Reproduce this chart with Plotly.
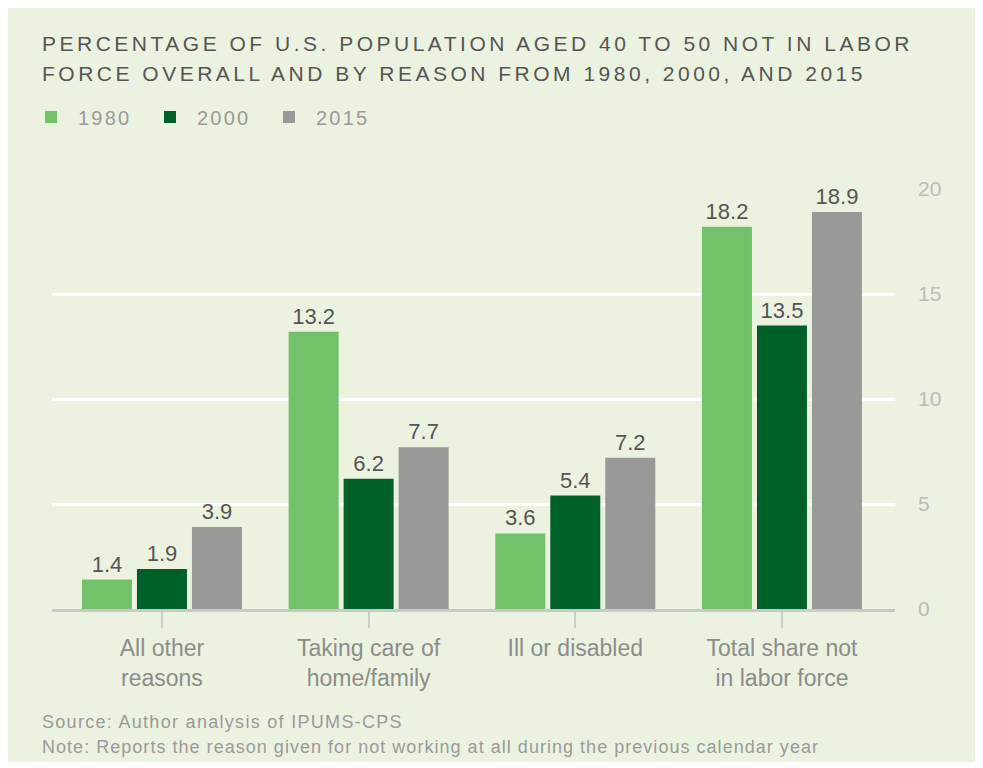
import plotly.graph_objects as go

categories = ["All other<br>reasons", "Taking care of<br>home/family", "Ill or disabled", "Total share not<br>in labor force"]
years = ["1980", "2000", "2015"]
values_1980 = [1.4, 13.2, 3.6, 18.2]
values_2000 = [1.9, 6.2, 5.4, 13.5]
values_2015 = [3.9, 7.7, 7.2, 18.9]
colors = ["#70c167", "#006128", "#999997"]
y_ticks = [0, 5, 10, 15, 20]
title_lines = ["PERCENTAGE OF U.S. POPULATION AGED 40 TO 50 NOT IN LABOR",
               "FORCE OVERALL AND BY REASON FROM 1980, 2000, AND 2015"]
notes = ["Source: Author analysis of IPUMS-CPS",
         "Note: Reports the reason given for not working at all during the previous calendar year"]

BG = "#ecf2e0"
FONT = "Liberation Sans, Arial, sans-serif"

# figure geometry (page has an 8px body margin)
W, H = 975, 754
L, T, PW, PH = 44, 181, 843, 420
R, B = W - L - PW, H - T - PH


def px(x):  # figure px -> paper x
    return (x - L) / PW


def py(y):  # figure px -> paper y
    return (T + PH - y) / PH


def spaced(s, ls):
    return f'<span style="letter-spacing:{ls}px">{s}</span>'


fig = go.Figure()
for name, vals, col in zip(years, [values_1980, values_2000, values_2015], colors):
    fig.add_trace(go.Bar(
        x=categories, y=vals, name=spaced(name, 2.2), marker=dict(color=col, line=dict(width=0)),
        text=[f"{v:.1f}" for v in vals], textposition="outside",
        textfont=dict(family=FONT, size=22, color="#555555"), cliponaxis=False,
    ))

annotations = []
for i, line in enumerate(title_lines):
    annotations.append(dict(
        text=spaced(line, 3.5), x=px(32), y=py(35.5 + 30 * i), xref="paper", yref="paper",
        showarrow=False, xanchor="left", yanchor="middle",
        font=dict(family=FONT, size=21, color="#555555")))
for i, (line, ls) in enumerate(zip(notes, [1.3, 1.03])):
    annotations.append(dict(
        text=spaced(line, ls), x=px(32), y=py(713.5 + 25 * i), xref="paper", yref="paper",
        showarrow=False, xanchor="left", yanchor="middle",
        font=dict(family=FONT, size=18, color="#9a9a9a")))

fig.update_layout(
    width=W, height=H,
    paper_bgcolor=BG, plot_bgcolor=BG,
    margin=dict(l=L, r=R, t=T, b=B),
    barmode="group", bargap=0.2016, bargroupgap=0.091,
    font=dict(family=FONT),
    legend=dict(
        orientation="h", x=16 / W, xanchor="left", xref="container",
        y=1 - 109 / H, yanchor="middle", yref="container",
        font=dict(family=FONT, size=20, color="#9a9a9a"),
        bgcolor="rgba(0,0,0,0)", itemwidth=44, entrywidth=60, traceorder="normal",
    ),
    showlegend=True,
    xaxis=dict(
        range=[-0.532, 3.547], showgrid=False, zeroline=False,
        ticks="outside", ticklen=16, tickwidth=2, tickcolor="#cccccc",
        tickfont=dict(family=FONT, size=23, color="#8c8c8c"),
        showline=True, linecolor="#c9c9c9", linewidth=3,
    ),
    yaxis=dict(
        side="right", range=[0, 20], tickvals=y_ticks,
        showgrid=True, gridcolor="#ffffff", gridwidth=2.5, zeroline=False,
        tickfont=dict(family=FONT, size=21, color="#bbbbbb"),
        ticklabelstandoff=22, showline=False,
    ),
    annotations=annotations,
)

fig.write_html("out.html")
